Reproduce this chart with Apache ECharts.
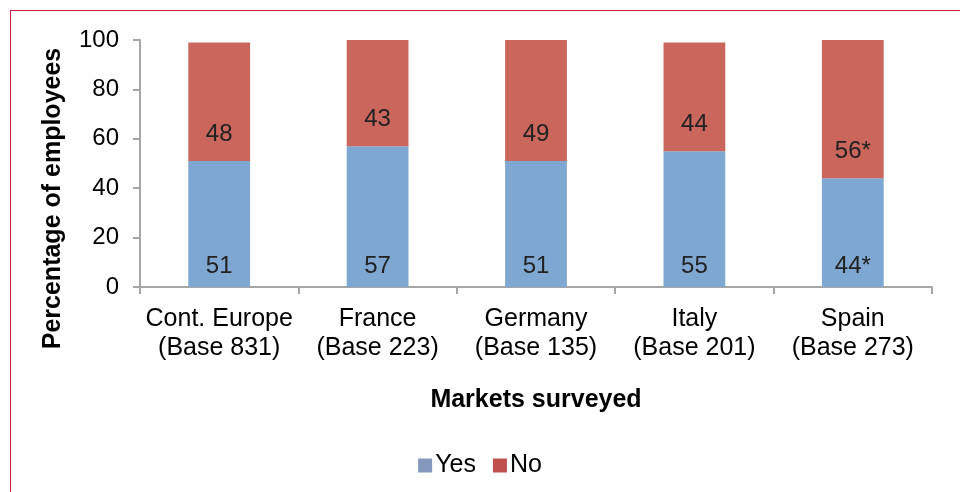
<!DOCTYPE html>
<html>
<head>
<meta charset="utf-8">
<script src="https://cdn.jsdelivr.net/npm/echarts@6/dist/echarts.min.js"></script>
<style>
  html, body { margin: 0; padding: 0; background: #fff; }
  #frame { position: absolute; left: 10px; top: 10px; width: 960px; height: 492px;
           border-top: 1px solid #cc1f44; border-left: 1px solid #cc1f44; }
  #chart { position: absolute; left: 0; top: 0; width: 960px; height: 492px; }
</style>
</head>
<body>
<div id="frame"></div>
<div id="chart"></div>
<script>
// markets along the x axis
var markets = ["Cont. Europe\n(Base 831)", "France\n(Base 223)", "Germany\n(Base 135)", "Italy\n(Base 201)", "Spain\n(Base 273)"];
var yesValues = [51, 57, 51, 55, 44];
var noValues = [48, 43, 49, 44, 56];
// * = significant difference
var yesLabels = ["51", "57", "51", "55", "44*"];
var noLabels = ["48", "43", "49", "44", "56*"];

var font = "'Liberation Sans', Arial, Helvetica, sans-serif";
var chart = echarts.init(document.getElementById("chart"));

function labelFor(texts, dist) {
  return {
    show: true,
    position: "insideBottom",
    distance: dist,
    color: "#222",
    fontSize: 24,
    fontFamily: font,
    formatter: function (p) { return texts[p.dataIndex]; }
  };
}

var option = {
  animation: false,
  grid: { left: 140, right: 28, top: 40, bottom: 205 },
  legend: {
    bottom: 9,
    left: "center",
    itemWidth: 14,
    itemHeight: 14,
    itemGap: 17,
    icon: "rect",
    textStyle: { fontSize: 25, fontFamily: font, color: "#000", padding: [0, 0, 0, -2] },
    data: [
      { name: "Yes", itemStyle: { color: "#8498bd" } },
      { name: "No", itemStyle: { color: "#c0504d" } }
    ]
  },
  xAxis: {
    type: "category",
    data: markets,
    name: "Markets surveyed",
    nameLocation: "middle",
    nameGap: 101,
    nameTextStyle: { fontSize: 25, fontWeight: "bold", fontFamily: font, color: "#000" },
    axisLine: { lineStyle: { color: "#a6a6a6", width: 2 } },
    axisTick: { show: true, length: 7, lineStyle: { color: "#a6a6a6", width: 2 } },
    axisLabel: { interval: 0, fontSize: 25, fontFamily: font, color: "#000", margin: 18, lineHeight: 29 }
  },
  yAxis: {
    type: "value",
    min: 0,
    max: 100,
    interval: 20,
    name: "Percentage of employees",
    nameLocation: "middle",
    nameGap: 74,
    nameTextStyle: { fontSize: 25, fontWeight: "bold", fontFamily: font, color: "#000", padding: [0, 70, 0, 0] },
    axisLine: { show: true, lineStyle: { color: "#a6a6a6", width: 2 } },
    axisTick: { show: true, length: 7, lineStyle: { color: "#a6a6a6", width: 2 } },
    splitLine: { show: false },
    axisLabel: { fontSize: 24, fontFamily: font, color: "#000", margin: 21 }
  },
  series: [
    {
      name: "Yes",
      type: "bar",
      stack: "total",
      barWidth: "39%",
      data: yesValues,
      itemStyle: { color: "#7ea7d1" },
      label: labelFor(yesLabels, 9)
    },
    {
      name: "No",
      type: "bar",
      stack: "total",
      data: noValues,
      itemStyle: { color: "#ca665c" },
      label: labelFor(noLabels, 15)
    }
  ]
};
chart.setOption(option);
</script>
</body>
</html>
